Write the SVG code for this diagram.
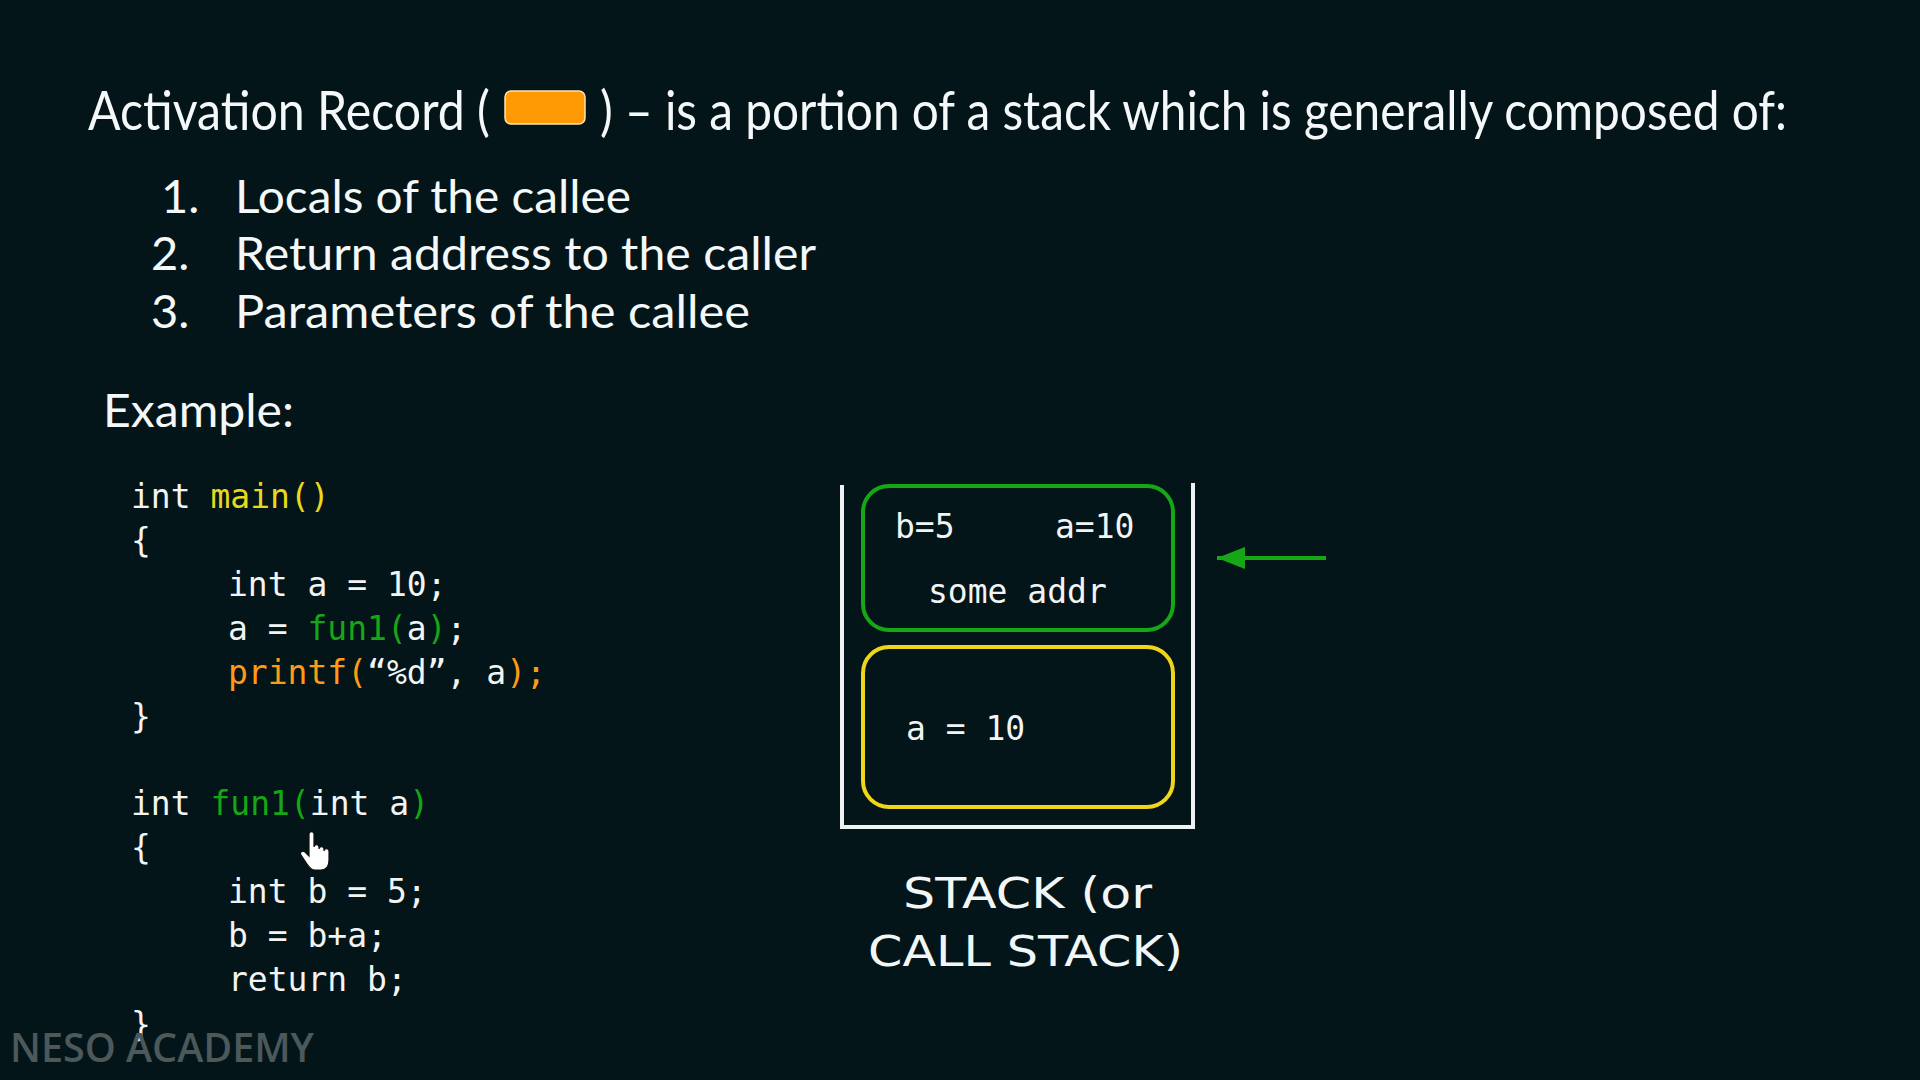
<svg xmlns="http://www.w3.org/2000/svg" width="1920" height="1080" viewBox="0 0 1920 1080">
  <style>
    .head { font-family: Lato, "Noto Sans", sans-serif; fill: #f4f8f8; }
    .code { font-family: "DejaVu Sans Mono", "Liberation Mono", monospace; font-size: 33px; fill: #f2f4f4; }
    .yl { fill: #e9d91c; }
    .gr { fill: #16a716; }
    .or { fill: #ff9a16; }
    .label { font-family: "DejaVu Sans", "Liberation Sans", sans-serif; font-size: 42px; fill: #f2f6f6; }
    .wall { stroke: #eef2f2; stroke-width: 4; fill: none; }
  </style>
  <defs>
    <marker id="arrowHead" viewBox="0 0 10 10" refX="10" refY="5" markerWidth="28" markerHeight="22" orient="auto" markerUnits="userSpaceOnUse" preserveAspectRatio="none">
      <path d="M0,0 L10,5 L0,10 Z" fill="#16a716"/>
    </marker>
  </defs>

  <rect width="1920" height="1080" fill="#031518"/>

  <!-- heading -->
  <g id="heading">
    <text class="head" x="88" y="130" font-size="54" textLength="402" lengthAdjust="spacingAndGlyphs">Activation Record (</text>
    <rect x="505" y="91" width="80" height="33" rx="6" fill="#ff9a05" stroke="#ffe2b0" stroke-width="1.5"/>
    <text class="head" x="600" y="130" font-size="54" textLength="1187" lengthAdjust="spacingAndGlyphs">) – is a portion of a stack which is generally composed of:</text>
  </g>

  <!-- numbered list -->
  <g id="list" class="head" font-size="47">
    <text x="161" y="213">1.</text>
    <text x="235" y="213" textLength="396" lengthAdjust="spacingAndGlyphs">Locals of the callee</text>
    <text x="151" y="270">2.</text>
    <text x="235" y="270" textLength="581" lengthAdjust="spacingAndGlyphs">Return address to the caller</text>
    <text x="151" y="328">3.</text>
    <text x="235" y="328" textLength="515" lengthAdjust="spacingAndGlyphs">Parameters of the callee</text>
    <text x="103" y="427" textLength="191" lengthAdjust="spacingAndGlyphs">Example:</text>
  </g>

  <!-- C source -->
  <g id="code-main" class="code">
    <text x="131" y="508">int <tspan class="yl">main()</tspan></text>
    <text x="131" y="552">{</text>
    <text x="228" y="596">int a = 10;</text>
    <text x="228" y="640">a = <tspan class="gr">fun1(</tspan>a<tspan class="gr">)</tspan>;</text>
    <text x="228" y="684"><tspan class="or">printf(</tspan>“%d”, a<tspan class="or">);</tspan></text>
    <text x="131" y="728">}</text>
  </g>
  <g id="code-fun1" class="code">
    <text x="131" y="815">int <tspan class="gr">fun1(</tspan>int a<tspan class="gr">)</tspan></text>
    <text x="131" y="859">{</text>
    <text x="228" y="903">int b = 5;</text>
    <text x="228" y="947">b = b+a;</text>
    <text x="228" y="991">return b;</text>
    <text x="131" y="1036">}</text>
  </g>

  <!-- pointer -->
  <g id="pointer">
    <path d="M309,834 c0,-3 5,-3 5,0 v13 c0,-3 5,-3 5,0 v2 c0,-3 5,-3 5,0 v2 c0,-3 5,-3 5,0 v9 c0,6 -3,10 -8,10 h-6 c-4,0 -6,-3 -8,-6 l-6,-9 c-2,-3 2,-5 4,-3 l4,4 z" fill="#ffffff" stroke="#111" stroke-width="1.2"/>
  </g>

  <!-- stack -->
  <g id="stack">
    <polyline class="wall" points="842,485 842,827 1193,827 1193,483"/>
  </g>
  <g id="frame-fun1">
    <rect x="863" y="486" width="310" height="144" rx="26" fill="none" stroke="#16a716" stroke-width="4"/>
    <text class="code" x="895" y="538">b=5</text>
    <text class="code" x="1055" y="538">a=10</text>
    <text class="code" x="928" y="603">some addr</text>
  </g>
  <g id="frame-main">
    <rect x="863" y="647" width="310" height="160" rx="26" fill="none" stroke="#f0d61a" stroke-width="4"/>
    <text class="code" x="906" y="740">a = 10</text>
  </g>

  <g id="connectors">
    <line x1="1326" y1="558" x2="1217" y2="558" stroke="#16a716" stroke-width="4" marker-end="url(#arrowHead)"/>
  </g>

  <g id="stack-label" class="label">
    <text x="903" y="908" textLength="249" lengthAdjust="spacingAndGlyphs">STACK (or</text>
    <text x="868" y="966" textLength="315" lengthAdjust="spacingAndGlyphs">CALL STACK)</text>
  </g>

  <text x="10" y="1062" font-family="'Open Sans', Lato, sans-serif" font-weight="600" font-size="40" fill="#4c585a" textLength="304" lengthAdjust="spacingAndGlyphs">NESO ACADEMY</text>
</svg>
